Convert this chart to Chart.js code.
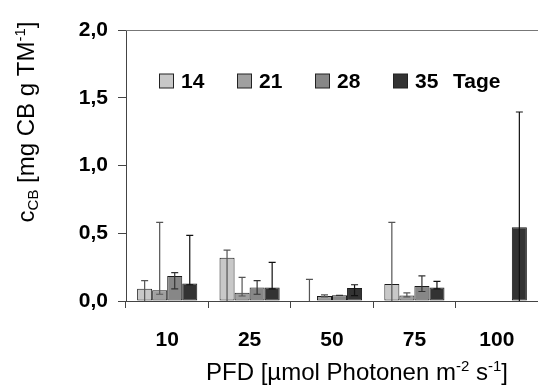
<!DOCTYPE html>
<html>
<head>
<meta charset="utf-8">
<script src="https://cdn.jsdelivr.net/npm/chart.js@4/dist/chart.umd.min.js"></script>
<style>
  html, body { margin: 0; padding: 0; background: #fff; }
  #chart { display: block; }
</style>
</head>
<body>
<canvas id="chart" width="538" height="385"></canvas>
<script>
// Kategorien (PFD) und Serien (Tage)
const pfdLabels = ['10', '25', '50', '75', '100'];
const seriesNames = ['14', '21', '28', '35'];
const yTicks = [0, 0.5, 1.0, 1.5, 2.0];

// Mittelwerte c_CB
const tage14 = [0.09, 0.32, 0.0, 0.125, null];
const tage21 = [0.08, 0.06, 0.037, 0.04, null];
const tage28 = [0.185, 0.10, 0.042, 0.11, null];
const tage35 = [0.13, 0.10, 0.096, 0.10, 0.545];

// Fehlerbalken: obere und untere Enden
const errHi14 = [0.15, 0.375, 0.16, 0.58, null];
const errLo14 = [0, 0, 0, 0, null];
const errHi21 = [0.58, 0.175, 0.045, 0.06, null];
const errLo21 = [0.05, 0.037, 0.03, 0.03, null];
const errHi28 = [0.21, 0.15, 0.042, 0.185, null];
const errLo28 = [0.09, 0.05, 0.042, 0.07, null];
const errHi35 = [0.485, 0.285, 0.12, 0.145, 1.395];
const errLo35 = [0.12, 0.09, 0.04, 0.09, 0];

const seriesValues = [tage14, tage21, tage28, tage35];
const errHigh = [errHi14, errHi21, errHi28, errHi35];
const errLow = [errLo14, errLo21, errLo28, errLo35];

const fillColors = ['#c8c8c8', '#a0a0a0', '#878787', '#333333'];
const errColors = ['#555555', '#555555', '#333333', '#111111'];

const FAMILY = '"Liberation Sans", Arial, sans-serif';
const BOLD = 'bold 21px ' + FAMILY;

// Fehlerbalken zeichnen
const errorBarPlugin = {
    id: 'errorBars',
    afterDatasetsDraw(chart) {
        const ctx = chart.ctx;
        const yScale = chart.scales.y;
        ctx.save();
        chart.data.datasets.forEach((ds, i) => {
            const meta = chart.getDatasetMeta(i);
            meta.data.forEach((bar, j) => {
                const hi = errHigh[i][j];
                if (hi === null || hi === undefined) return;
                const lo = errLow[i][j];
                const x = bar.x;
                const yHi = yScale.getPixelForValue(hi);
                const yLo = yScale.getPixelForValue(lo);
                ctx.strokeStyle = errColors[i];
                ctx.lineWidth = 1.2;
                ctx.beginPath();
                ctx.moveTo(x, yLo);
                ctx.lineTo(x, yHi);
                ctx.moveTo(x - 3.5, yHi);
                ctx.lineTo(x + 3.5, yHi);
                if (lo > 0) {
                    ctx.moveTo(x - 3.5, yLo);
                    ctx.lineTo(x + 3.5, yLo);
                }
                ctx.stroke();
            });
        });
        ctx.restore();
    }
};

// Legende, Rahmen oben, Achsentitel
const decorPlugin = {
    id: 'decor',
    afterDraw(chart) {
        const ctx = chart.ctx;
        const area = chart.chartArea;
        ctx.save();

        // obere Rahmenlinie
        ctx.strokeStyle = '#777';
        ctx.lineWidth = 1;
        ctx.beginPath();
        ctx.moveTo(area.left, area.top + 0.5);
        ctx.lineTo(area.right + 2, area.top + 0.5);
        ctx.stroke();

        // Legende
        ctx.font = BOLD;
        ctx.textBaseline = 'middle';
        ctx.textAlign = 'left';
        const legY = 81;
        let lx = area.left + 33;
        seriesNames.forEach((name, i) => {
            ctx.fillStyle = fillColors[i];
            ctx.fillRect(lx + 0.5, legY - 7, 14, 14);
            ctx.strokeStyle = '#222';
            ctx.lineWidth = 1;
            ctx.strokeRect(lx + 0.5, legY - 7, 14, 14);
            ctx.fillStyle = '#000';
            ctx.fillText(name, lx + 22, legY + 1);
            lx += 78;
        });
        ctx.fillText('Tage', area.left + 327, legY + 1);

        // x-Achsentitel
        drawRich(ctx, [
            ['PFD [µmol Photonen m', 24, 0],
            ['-2', 15, -9],
            [' s', 24, 0],
            ['-1', 15, -9],
            [']', 24, 0]
        ], 357, 380);

        // y-Achsentitel
        ctx.translate(34, 122);
        ctx.rotate(-Math.PI / 2);
        drawRich(ctx, [
            ['c', 24, 0],
            ['CB', 15, 4],
            [' [mg CB g TM', 24, 0],
            ['-1', 15, -9],
            [']', 24, 0]
        ], 0, 0);
        ctx.restore();
    }
};

// Text mit Hoch-/Tiefstellung, zentriert um cx
function drawRich(ctx, parts, cx, baseY) {
    ctx.textBaseline = 'alphabetic';
    ctx.textAlign = 'left';
    ctx.fillStyle = '#000';
    let total = 0;
    parts.forEach(p => {
        ctx.font = p[1] + 'px ' + FAMILY;
        total += ctx.measureText(p[0]).width;
    });
    let x = cx - total / 2;
    parts.forEach(p => {
        ctx.font = p[1] + 'px ' + FAMILY;
        ctx.fillText(p[0], x, baseY + p[2]);
        x += ctx.measureText(p[0]).width;
    });
}

const datasets = seriesValues.map((vals, i) => ({
    label: seriesNames[i],
    data: vals,
    backgroundColor: fillColors[i],
    borderColor: '#1a1a1a',
    borderWidth: 1,
    borderSkipped: false,
    categoryPercentage: 0.73,
    barPercentage: 1.0
}));

new Chart(document.getElementById('chart'), {
    type: 'bar',
    data: { labels: pfdLabels, datasets: datasets },
    options: {
        responsive: false,
        animation: false,
        events: [],
        layout: { padding: { top: 30, right: 0, left: 0, bottom: 0 } },
        plugins: {
            legend: { display: false },
            tooltip: { enabled: false },
            title: { display: false }
        },
        scales: {
            x: {
                afterFit: s => { s.height = 84; },
                border: { color: '#444', width: 1 },
                grid: {
                    display: true,
                    drawOnChartArea: false,
                    drawTicks: true,
                    tickLength: 7,
                    offset: true,
                    color: '#444'
                },
                ticks: {
                    color: '#000',
                    font: { family: FAMILY, size: 21, weight: 'bold' },
                    padding: 20
                }
            },
            y: {
                min: 0,
                max: 2,
                afterFit: s => { s.width = 126; },
                afterBuildTicks: s => { s.ticks = yTicks.map(v => ({ value: v })); },
                border: { color: '#444', width: 1 },
                grid: {
                    display: true,
                    drawOnChartArea: false,
                    drawTicks: true,
                    tickLength: 8,
                    color: '#444'
                },
                ticks: {
                    color: '#000',
                    font: { family: FAMILY, size: 21, weight: 'bold' },
                    padding: 10,
                    callback: v => Number(v).toFixed(1).replace('.', ',')
                }
            }
        }
    },
    plugins: [errorBarPlugin, decorPlugin]
});
</script>
</body>
</html>
